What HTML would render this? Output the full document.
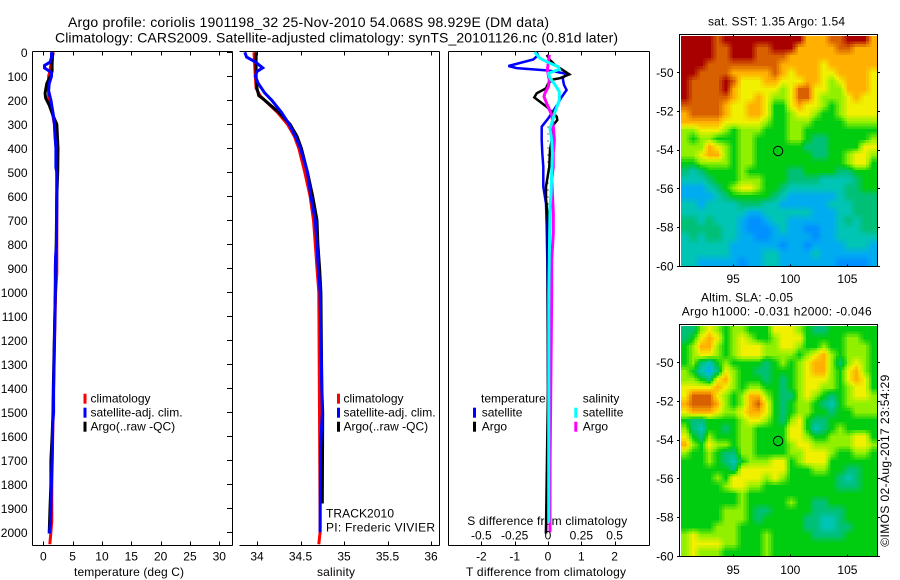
<!DOCTYPE html>
<html lang="en">
<head>
<meta charset="utf-8">
<title>Argo profile</title>
<style>
html,body{margin:0;padding:0;background:#fff;}
svg{display:block;}
text{font-family:"Liberation Sans",Arial,sans-serif;font-size:12px;fill:#000;}
.t14{font-size:14px;}
</style>
</head>
<body>
<svg id="chart" xmlns="http://www.w3.org/2000/svg" width="900" height="580" viewBox="0 0 900 580">
<text class="t14" x="68" y="27" textLength="481">Argo profile: coriolis 1901198_32 25-Nov-2010 54.068S 98.929E (DM data)</text>
<text class="t14" x="55" y="42.7" textLength="563">Climatology: CARS2009. Satellite-adjusted climatology: synTS_20101126.nc (0.81d later)</text>
<text x="708" y="25.7" textLength="137">sat. SST: 1.35 Argo: 1.54</text>
<text x="701" y="301.7" textLength="92">Altim. SLA: -0.05</text>
<text x="681.7" y="315.3" textLength="190">Argo h1000: -0.031 h2000: -0.046</text>
<text x="74" y="576" textLength="110">temperature (deg C)</text>
<text x="317" y="576" textLength="38">salinity</text>
<text x="466" y="576" textLength="160">T difference from climatology</text>
<text x="467.3" y="525" textLength="160">S difference from climatology</text>
<text x="326" y="517.3" textLength="68">TRACK2010</text>
<text x="326" y="531.7" textLength="109">PI: Frederic VIVIER</text>
<text transform="translate(889,546.7) rotate(-90)" x="0" y="0" textLength="172">©IMOS 02-Aug-2017 23:54:29</text>
<g id="layer"></g>
</svg>
<script>
// ---- chart data ----
const depthTicks = [0,100,200,300,400,500,600,700,800,900,1000,1100,1200,1300,1400,1500,1600,1700,1800,1900,2000];
const tempTicks = [0,5,10,15,20,25,30];
const salTicks = [34,34.5,35,35.5,36];
const salTickLabels = ['34','34.5','35','35.5','36'];
const tDiffTicks = [-2,-1,0,1,2];
const sDiffTicks = [-0.5,-0.25,0,0.25,0.5];
const sDiffTickLabels = ['-0.5','-0.25','0','0.25','0.5'];
const lonTicks = [95,100,105];
const latTicks = [-50,-52,-54,-56,-58,-60];
const argoLon = 98.929;
const argoLat = -54.068;

const tempClimDepth = [0,50,80,100,150,200,230,260,300,400,500,800,920,1000,1400,1800,1950,2000,2050];
const tempClimValue = [1.7,1.3,1.1,0.9,0.9,0.9,1.3,1.6,1.9,2.2,2.3,2.3,2.3,2.1,1.75,1.45,1.45,1.3,1.1];
const tempArgoDepth = [0,50,80,100,130,170,190,220,260,300,350,400,500,600,800,1000,1400,1500,1600,1700,1800,1900,2005];
const tempArgoValue = [1.6,1.5,1.5,1.2,0.6,0.3,0.4,1.0,1.6,2.3,2.4,2.5,2.45,2.3,2.2,2.05,1.7,1.65,1.5,1.3,1.3,1.15,1.0];
const tempSatDepth = [0,20,40,55,65,75,85,100,130,160,200,230,260,300,350,400,480,500,600,800,850,900,1000,1400,1500,1550,1700,1780,1950,2005];
const tempSatValue = [1.4,1.4,1.2,0.2,0.2,0.8,1.4,1.4,1.0,0.9,1.3,1.5,1.7,1.9,2.0,2.15,2.15,2.3,2.3,2.25,2.1,2.05,2.05,1.75,1.75,1.6,1.5,1.4,1.25,1.05];

const salClimDepth = [0,100,150,180,200,250,300,350,400,500,600,700,800,900,1000,1950,2000,2050];
const salClimValue = [33.965,33.98,33.99,34.035,34.09,34.235,34.35,34.43,34.48,34.55,34.61,34.65,34.67,34.69,34.71,34.725,34.725,34.71];
const salArgoDepth = [0,100,150,180,200,250,300,350,400,500,600,700,800,900,1000,1400,1500,1880];
const salArgoValue = [33.99,33.99,34.0,34.02,34.09,34.25,34.38,34.46,34.51,34.58,34.64,34.69,34.7,34.72,34.735,34.745,34.755,34.75];
const salSatDepth = [0,20,40,65,80,100,130,170,200,250,300,350,400,500,600,700,800,900,1000,1400,1500,1650,2000];
const salSatValue = [33.86,33.88,33.98,34.065,34.0,33.98,34.015,34.09,34.17,34.28,34.37,34.44,34.5,34.58,34.62,34.67,34.69,34.705,34.725,34.745,34.75,34.73,34.725];

const dTempSatDepth = [0,12,30,57,66,76,80,90,108,136,157,192,212,233,275,310,366,420,477,560,630,725,870,1400,1700,1900,2005];
const dTempSatValue = [-0.34,-0.3,-0.44,-1.19,-0.94,0,0.2,0.56,0.44,0.48,0.56,0.38,0.31,0.21,0.01,-0.19,-0.19,-0.17,-0.14,-0.14,-0.06,-0.04,-0.02,0,0,-0.04,-0.06];
const dTempArgoDepth = [11,32,53,71,92,108,113,129,150,171,188,206,227,248,268,282,303,365,407,477,559,611,667,725,1000,1400,1600,1900,2005];
const dTempArgoValue = [-0.04,0.06,0.21,0.41,0.64,0.36,0.16,0.01,-0.06,-0.34,-0.41,-0.24,-0.04,0.11,0.26,0.28,0.16,0.11,0.06,0.04,-0.06,-0.06,-0.02,0,-0.01,0,-0.02,-0.05,-0.06];
const dSalSatDepth = [0,25,46,60,71,88,108,136,164,199,247,282,317,366,421,504,587,643,1000,1700,1960];
const dSalSatValue = [-0.1,-0.06,0.015,0.078,0.085,0.003,0.015,0.053,0.085,0.085,0.053,0.035,0.015,0.028,0.033,0.028,0.023,0.015,0.006,0.005,0.005];
const dSalArgoDepth = [11,32,74,115,143,171,185,219,261,310,366,421,477,531,587,671,754,865,1000,1700,2000];
const dSalArgoValue = [0.01,0.005,-0.005,0.01,0.003,-0.023,-0.03,-0.005,0.028,0.04,0.048,0.04,0.04,0.028,0.033,0.04,0.04,0.028,0.028,0.016,0.015];

const sstGrid = [
[9,9,9,9,8,9,9,9,9,9,9,9,9,9,9,7,7,7,8,8,9,9,9,7],
[9,9,9,9,8,8,9,9,9,8,8,9,9,9,7,7,7,7,7,8,8,7,7,7],
[9,9,9,9,8,8,9,9,9,8,8,8,8,7,7,7,7,7,7,7,7,7,7,7],
[9,9,9,8,8,8,8,8,8,8,8,8,7,7,7,7,7,6,7,7,7,7,7,7],
[9,9,8,8,8,8,7,7,7,7,7,8,7,6,7,7,7,6,6,7,7,7,7,6],
[9,8,8,8,8,9,8,6,6,6,7,7,6,6,6,7,7,6,5,6,7,7,7,6],
[9,8,8,8,8,9,7,6,6,6,6,6,5,6,8,8,6,6,5,5,7,7,7,6],
[9,8,8,8,8,8,7,6,6,7,6,5,5,6,8,8,6,5,5,5,6,7,6,6],
[8,8,8,8,8,7,6,6,7,7,6,4,4,6,7,6,6,5,4,5,6,6,6,6],
[7,8,8,8,8,7,6,6,7,7,6,4,4,5,6,6,5,4,4,5,6,6,6,6],
[7,7,7,7,7,6,6,6,6,6,5,4,4,5,5,5,4,4,4,4,5,5,5,5],
[5,5,6,6,6,5,4,5,5,5,4,4,4,5,5,4,4,4,4,4,4,4,4,4],
[5,4,5,5,4,4,4,5,5,4,4,4,4,5,5,4,3,3,4,4,4,4,4,5],
[5,5,5,7,6,5,4,5,5,4,4,4,4,4,4,3,3,3,4,4,4,4,6,6],
[5,5,6,7,7,5,4,5,5,4,4,4,4,4,4,4,3,3,4,4,5,6,6,5],
[4,4,5,5,5,5,4,5,5,4,4,4,4,4,4,4,4,4,4,4,5,6,6,4],
[3,2,3,4,4,4,4,5,4,4,4,4,4,3,3,4,4,4,4,3,3,4,4,4],
[2,2,2,3,4,4,4,5,5,5,4,4,4,3,3,3,3,2,2,2,2,3,4,4],
[1,1,1,2,3,4,5,6,6,5,4,4,3,2,2,2,2,2,2,2,3,3,4,4],
[1,1,1,1,2,3,4,4,4,4,4,3,2,1,1,1,1,1,1,2,3,3,3,3],
[2,2,1,2,2,2,2,3,3,3,2,2,1,1,1,1,1,1,2,2,2,3,3,3],
[2,2,2,2,2,2,2,2,1,1,2,2,2,2,2,2,1,1,1,2,2,3,3,3],
[3,3,2,3,2,2,2,1,0,0,1,2,2,1,1,1,1,1,1,2,3,2,3,3],
[3,3,3,3,3,2,2,1,0,0,0,1,2,1,1,0,0,1,1,2,2,2,3,3],
[2,3,2,3,3,2,2,1,1,0,0,1,1,1,1,1,0,1,1,2,2,2,2,2],
[2,2,2,2,2,2,1,1,1,1,1,1,0,1,1,0,1,1,1,1,2,2,2,1],
[2,2,2,2,2,2,1,1,1,1,2,2,1,1,1,1,2,1,1,1,1,1,1,1],
[2,2,1,1,1,1,1,0,1,1,2,2,1,1,1,1,1,1,1,0,0,0,0,1]
];
const slaGrid = [
[3,3,5,6,5,4,5,5,4,4,4,6,6,6,5,4,3,3,4,4,4,4,4,4],
[3,4,6,7,6,4,5,6,5,4,4,5,6,6,6,4,4,4,4,4,5,5,4,4],
[4,5,7,7,5,4,5,6,6,6,5,5,6,6,5,4,4,5,4,4,5,5,5,4],
[4,5,6,6,5,4,5,6,6,6,5,5,5,5,4,5,6,7,5,4,5,5,5,4],
[4,5,3,2,4,5,4,4,4,4,3,4,5,4,5,6,7,7,5,3,5,6,5,4],
[5,4,2,1,3,6,5,4,4,3,3,4,4,4,5,6,7,7,5,4,6,7,5,4],
[5,5,4,3,6,7,5,4,4,4,3,4,3,4,5,6,6,6,5,4,6,7,6,4],
[6,6,6,6,7,6,5,4,5,5,4,4,3,4,5,6,6,5,5,4,5,6,6,4],
[6,8,8,8,6,5,4,5,7,7,5,4,3,3,5,6,5,4,3,4,5,6,6,5],
[7,8,8,8,7,5,4,5,7,8,6,4,3,4,5,5,4,3,2,4,5,5,5,5],
[6,7,7,7,6,5,5,6,7,7,6,4,3,4,5,5,4,4,3,4,4,5,5,5],
[4,3,3,4,4,4,4,5,6,6,5,4,3,5,6,4,3,3,4,4,4,4,4,4],
[5,3,2,4,4,3,4,5,5,4,4,4,4,6,6,4,2,3,4,5,4,4,4,4],
[6,4,3,5,4,4,4,5,5,4,4,4,4,6,6,5,4,4,5,5,5,6,6,4],
[7,5,4,6,5,5,4,5,5,4,4,4,4,5,6,6,5,5,5,5,5,6,6,5],
[5,4,4,5,4,3,3,5,5,4,4,4,4,5,5,6,6,6,5,4,4,5,5,4],
[4,4,4,5,4,3,2,4,5,5,5,6,6,4,5,6,6,6,4,4,4,4,4,4],
[4,4,4,4,4,4,3,6,6,6,6,6,6,4,4,4,5,5,4,4,3,3,4,4],
[4,4,4,4,5,4,6,6,6,6,5,6,5,4,4,4,4,4,4,3,2,3,4,4],
[4,4,4,4,4,5,6,6,5,5,4,4,4,4,4,4,4,4,4,3,3,3,4,4],
[4,4,4,4,4,4,4,5,4,4,4,4,4,4,4,4,4,4,4,4,4,4,4,4],
[4,4,4,4,4,4,4,5,4,4,4,4,4,5,4,4,3,3,4,4,4,4,4,4],
[4,4,4,4,4,5,5,5,4,3,3,4,4,4,4,4,3,3,3,3,4,4,4,4],
[4,4,4,4,4,5,5,5,4,3,4,4,4,4,4,3,3,2,2,3,4,4,4,4],
[4,4,4,4,5,5,5,4,4,4,4,4,4,4,4,3,3,2,2,3,3,4,4,4],
[5,6,5,5,5,5,5,4,4,4,5,4,4,4,4,4,3,3,3,3,4,4,4,4],
[5,6,6,6,6,5,5,4,4,4,5,4,4,4,4,4,4,4,4,4,4,4,4,4],
[5,6,5,5,5,4,4,4,4,4,5,4,4,4,4,4,4,4,4,4,4,4,4,4]
];
const mapPalette = [[0,144,255],[0,172,240],[0,196,180],[0,192,120],[0,204,16],[144,240,0],[240,240,0],[255,176,0],[216,96,0],[168,0,0]];

// ---- axis functions ----
const yDepth = d => 52.3 + 0.24 * d;
const xTemp = v => 43.3 + 5.867 * v;
const xSal = v => 257 + 87 * (v - 34);
const xTDiff = v => 548 + 33.3 * v;
const xSDiff = v => 548 + 133.3 * v;
const xLon = v => 790.3 + 11.43 * (v - 100);
const yLatSst = v => 72.3 + 19.35 * (-50 - v);
const yLatSla = v => 362.3 + 19.35 * (-50 - v);

// ---- drawing helpers ----
const NS = 'http://www.w3.org/2000/svg';
const root = document.getElementById('layer');
function mk(tag, name, parent, props) {
  const el = document.createElementNS(NS, tag);
  
  
  for (const k in props) el.setAttribute(k, props[k]);
  (parent || root).appendChild(el);
  return el;
}
function seg(name, x1, y1, x2, y2, parent) {
  return mk('line', name, parent, {x1, y1, x2, y2, stroke: '#000', 'stroke-width': 1, 'shape-rendering': 'crispEdges'});
}
function label(name, str, x, y, anchor, parent) {
  const t = mk('text', name, parent, {x, y, 'text-anchor': anchor});
  t.textContent = str;
  return t;
}
function profile(name, depths, values, xf, color, width) {
  const pts = depths.map((d, i) => xf(values[i]).toFixed(1) + ',' + yDepth(d).toFixed(1)).join(' ');
  return mk('polyline', name, null, {points: pts, fill: 'none', stroke: color, 'stroke-width': width, 'stroke-linejoin': 'miter', 'stroke-miterlimit': 3});
}
function legendRow(name, str, barX, textX, baseline, color) {
  mk('rect', name + '-swatch', null, {x: barX, y: baseline - 9, width: 3, height: 10, fill: color});
  label(name + '-label', str, textX, baseline, 'start');
}

// ---- panel frames ----
const TOP = 51.5, BOT = 545.5;
seg('temperature-panel-left-spine', 32.5, TOP, 32.5, BOT);
seg('temperature-panel-right-spine', 232.5, TOP, 232.5, BOT);
seg('temperature-panel-top-spine', 32.5, TOP, 232.5, TOP);
seg('temperature-panel-bottom-spine', 32.5, BOT, 232.5, BOT);
seg('salinity-panel-right-spine', 439.5, TOP, 439.5, BOT);
seg('salinity-panel-top-spine', 239.5, TOP, 439.5, TOP);
seg('salinity-panel-bottom-spine', 239.5, BOT, 439.5, BOT);
seg('difference-panel-left-spine', 448.5, TOP, 448.5, BOT);
seg('difference-panel-right-spine', 649.5, TOP, 649.5, BOT);
seg('difference-panel-top-spine', 448.5, TOP, 649.5, TOP);
seg('difference-panel-bottom-spine', 448.5, BOT, 649.5, BOT);

depthTicks.forEach(d => {
  const y = Math.round(yDepth(d)) + 0.5;
  seg('depth-tick', 227, y, 232, y);
  label('depth-tick-label', String(d), 27.5, yDepth(d) + 4.5, 'end');
});
tempTicks.forEach(v => {
  const x = Math.round(xTemp(v)) + 0.5;
  seg('temperature-tick-top', x, TOP, x, TOP + 4);
  seg('temperature-tick-bottom', x, BOT - 4, x, BOT);
  label('temperature-tick-label', String(v), xTemp(v), 560.7, 'middle');
});
salTicks.forEach((v, i) => {
  const x = Math.round(xSal(v)) + 0.5;
  seg('salinity-tick-top', x, TOP, x, TOP + 4);
  seg('salinity-tick-bottom', x, BOT - 4, x, BOT);
  label('salinity-tick-label', salTickLabels[i], xSal(v), 560.7, 'middle');
});
tDiffTicks.forEach(v => {
  const x = Math.round(xTDiff(v)) + 0.5;
  seg('t-difference-tick-top', x, TOP, x, TOP + 4);
  seg('t-difference-tick-bottom', x, BOT - 4, x, BOT);
  label('t-difference-tick-label', String(v), xTDiff(v), 560.7, 'middle');
});

// ---- profiles ----
profile('temperature-climatology-line', tempClimDepth, tempClimValue, xTemp, '#ff0000', 3);
profile('temperature-argo-line', tempArgoDepth, tempArgoValue, xTemp, '#000000', 3);
profile('temperature-satellite-line', tempSatDepth, tempSatValue, xTemp, '#0000ff', 3);
profile('salinity-climatology-line', salClimDepth, salClimValue, xSal, '#ff0000', 3);
profile('salinity-argo-line', salArgoDepth, salArgoValue, xSal, '#000000', 3);
profile('salinity-satellite-line', salSatDepth, salSatValue, xSal, '#0000ff', 3);

mk('line', 'zero-difference-line', null, {x1: xTDiff(0), y1: yDepth(280), x2: xTDiff(0), y2: yDepth(1000), stroke: '#000', 'stroke-width': 1, 'stroke-dasharray': '1 6'});
profile('t-difference-satellite-line', dTempSatDepth, dTempSatValue, xTDiff, '#0000ff', 2.5);
profile('t-difference-argo-line', dTempArgoDepth, dTempArgoValue, xTDiff, '#000000', 2.5);
profile('s-difference-argo-line', dSalArgoDepth, dSalArgoValue, xSDiff, '#ff00ff', 3);
profile('s-difference-satellite-line', dSalSatDepth, dSalSatValue, xSDiff, '#00ffff', 3);

sDiffTicks.forEach((v, i) => {
  label('s-difference-tick-label', sDiffTickLabels[i], xSDiff(v), 539.3, 'middle');
});

// ---- legends ----
legendRow('temperature-legend-climatology', 'climatology', 83.5, 90.5, 402.7, '#ff0000');
legendRow('temperature-legend-satellite', 'satellite-adj. clim.', 83.5, 90.5, 416.7, '#0000ff');
legendRow('temperature-legend-argo', 'Argo(..raw -QC)', 83.5, 90.5, 430.7, '#000000');
legendRow('salinity-legend-climatology', 'climatology', 337, 343.5, 402.7, '#ff0000');
legendRow('salinity-legend-satellite', 'satellite-adj. clim.', 337, 343.5, 416.7, '#0000ff');
legendRow('salinity-legend-argo', 'Argo(..raw -QC)', 337, 343.5, 430.7, '#000000');
label('difference-legend-temperature-heading', 'temperature', 481, 402.7, 'start');
label('difference-legend-salinity-heading', 'salinity', 582.7, 402.7, 'start');
legendRow('difference-legend-t-satellite', 'satellite', 473, 481.7, 416.7, '#0000ff');
legendRow('difference-legend-t-argo', 'Argo', 473, 481.7, 430.7, '#000000');
legendRow('difference-legend-s-satellite', 'satellite', 574.3, 582.7, 416.7, '#00ffff');
legendRow('difference-legend-s-argo', 'Argo', 574.3, 582.7, 430.7, '#ff00ff');

// ---- maps ----
// Fine raster pixels: each grid value is shaded smoothly toward its neighbours.
function gridValue(grid, r, c) {
  const rr = Math.max(0, Math.min(grid.length - 1, r));
  const cc = Math.max(0, Math.min(grid[0].length - 1, c));
  const r0 = Math.floor(rr), c0 = Math.floor(cc);
  const r1 = Math.min(grid.length - 1, r0 + 1), c1 = Math.min(grid[0].length - 1, c0 + 1);
  const fr = rr - r0, fc = cc - c0;
  return (grid[r0][c0] * (1 - fc) + grid[r0][c1] * fc) * (1 - fr) + (grid[r1][c0] * (1 - fc) + grid[r1][c1] * fc) * fr;
}
function shade(v) {
  const i = Math.min(mapPalette.length - 2, Math.floor(v));
  const f = v - i;
  const a = mapPalette[i], b = mapPalette[i + 1];
  return 'rgb(' + Math.round(a[0] + (b[0] - a[0]) * f) + ',' + Math.round(a[1] + (b[1] - a[1]) * f) + ',' + Math.round(a[2] + (b[2] - a[2]) * f) + ')';
}
function drawMap(name, grid, imgTop, imgH, frameTop, yLat, labelY) {
  const imgLeft = 681, imgW = 196, sub = 3;
  const rows = grid.length * sub, cols = grid[0].length * sub;
  const cw = imgW / cols, ch = imgH / rows;
  const cells = mk('g', name + '-cells', null, {'shape-rendering': 'crispEdges'});
  for (let r = 0; r < rows; r++) {
    for (let c = 0; c < cols; c++) {
      const v = gridValue(grid, (r + 0.5) / sub - 0.5, (c + 0.5) / sub - 0.5);
      mk('rect', name + '-cell', cells, {x: (imgLeft + c * cw).toFixed(2), y: (imgTop + r * ch).toFixed(2), width: (cw + 0.4).toFixed(2), height: (ch + 0.4).toFixed(2), fill: shade(v)});
    }
  }
  mk('rect', name + '-frame', null, {x: 679.5, y: frameTop, width: 198, height: 232, fill: 'none', stroke: '#000', 'stroke-width': 1, 'shape-rendering': 'crispEdges'});
  lonTicks.forEach(v => {
    const x = Math.round(xLon(v)) + 0.5;
    seg(name + '-lon-tick-top', x, frameTop, x, frameTop + 2);
    seg(name + '-lon-tick-bottom', x, frameTop + 230, x, frameTop + 232);
    label(name + '-lon-tick-label', String(v), xLon(v), labelY, 'middle');
  });
  latTicks.forEach(v => {
    const y = Math.round(yLat(v)) + 0.5;
    seg(name + '-lat-tick-left', 677, y, 680, y);
    seg(name + '-lat-tick-right', 877, y, 880, y);
    label(name + '-lat-tick-label', String(v), 673.5, yLat(v) + 4.5, 'end');
  });
  mk('circle', name + '-argo-position', null, {cx: xLon(argoLon).toFixed(1), cy: yLat(argoLat).toFixed(1), r: 4.7, fill: 'none', stroke: '#000', 'stroke-width': 1});
}
drawMap('sst-map', sstGrid, 36, 230, 34.5, yLatSst, 283);
drawMap('sla-map', slaGrid, 326, 230, 324.5, yLatSla, 574);
</script>
</body>
</html>
